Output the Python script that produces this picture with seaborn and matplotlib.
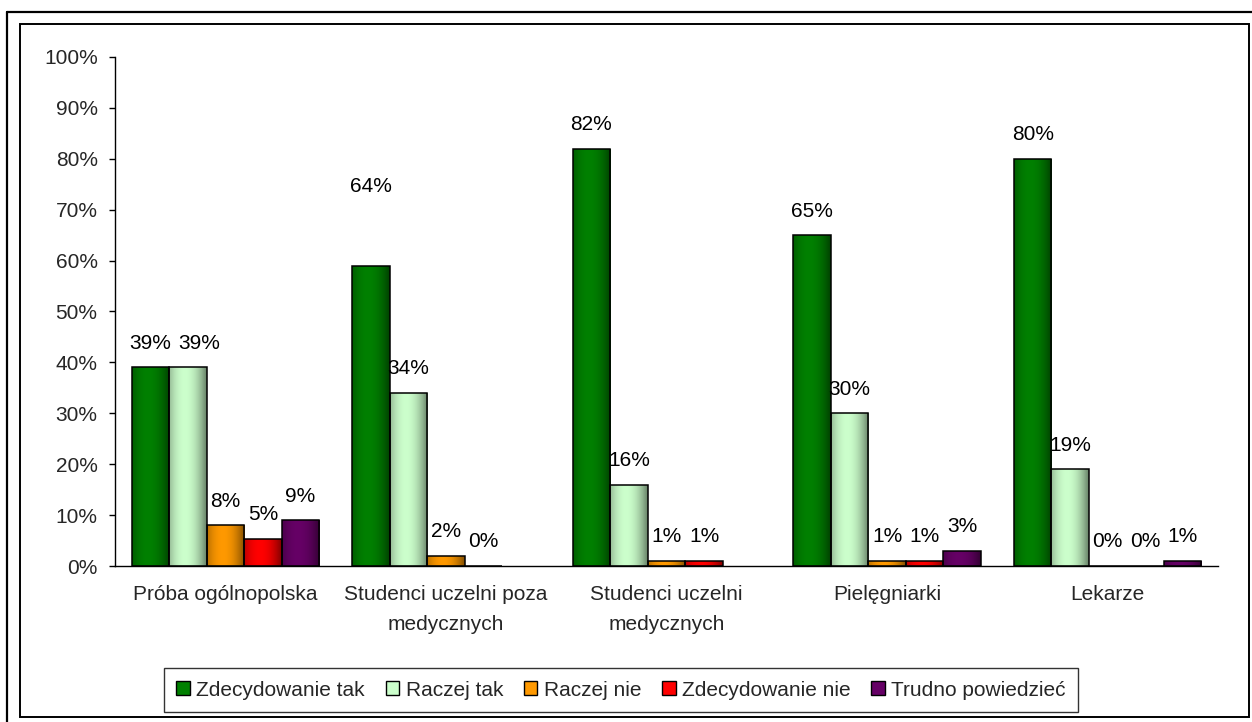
import numpy as np
import pandas as pd
import matplotlib
matplotlib.use("Agg")
import matplotlib.pyplot as plt
import seaborn as sns
from matplotlib.patches import Patch, Rectangle
from matplotlib.lines import Line2D
from matplotlib.colors import to_rgb
from matplotlib.ticker import PercentFormatter, FixedLocator

# data
categories = ["Próba ogólnopolska", "Studenci uczelni poza\nmedycznych",
              "Studenci uczelni\nmedycznych", "Pielęgniarki", "Lekarze"]
series = ["Zdecydowanie tak", "Raczej tak", "Raczej nie", "Zdecydowanie nie", "Trudno powiedzieć"]
zdecydowanie_tak = [39, 59, 82, 65, 80]
raczej_tak = [39, 34, 16, 30, 19]
raczej_nie = [8, 2, 1, 1, 0]
zdecydowanie_nie = [5.4, 0, 1, 1, 0]
trudno_powiedziec = [9, np.nan, np.nan, 3, 1]
# printed labels (the 2nd group's green label reads 64% and sits higher than its bar)
label_tak = ["39%", "64%", "82%", "65%", "80%"]

colors = ["#008000", "#CCFFCC", "#FF9900", "#FF0000", "#660066"]

df = pd.DataFrame({
    "kategoria": categories * 5,
    "odpowiedz": np.repeat(series, len(categories)),
    "wartosc": zdecydowanie_tak + raczej_tak + raczej_nie + zdecydowanie_nie + trudno_powiedziec,
})

W, H = 1252, 722
sns.set_style("white")
plt.rcParams["font.family"] = ["Liberation Sans", "DejaVu Sans"]
FS = 15

fig = plt.figure(figsize=(W / 100, H / 100), dpi=100)
ax = fig.add_axes([115 / W, 1 - 566 / H, (1218 - 115) / W, (566 - 57) / H])

sns.barplot(data=df, x="kategoria", y="wartosc", hue="odpowiedz", order=categories,
            hue_order=series, palette=colors, width=0.85, gap=0, dodge=True,
            edgecolor="black", linewidth=1.1, legend=False, ax=ax)

# excel-like horizontal gradient inside each bar
t = np.linspace(0, 1, 64)
shade = 0.55 + 0.45 * np.clip(1 - ((t - 0.42) / 0.55) ** 2, 0, 1)
for cont, col in zip(ax.containers, colors):
    rgb = np.array(to_rgb(col))
    grad = (shade[:, None] * rgb[None, :])[None, :, :]
    for bar in cont.patches:
        h = bar.get_height()
        if np.isnan(h) or h <= 0:
            continue
        x0 = bar.get_x()
        w = bar.get_width()
        im = ax.imshow(grad, extent=[x0, x0 + w, 0, h], aspect="auto", zorder=bar.get_zorder(),
                       interpolation="bilinear")
        im.set_clip_path(bar)
        bar.set_facecolor("none")
        bar.set_zorder(bar.get_zorder() + 0.1)

# value labels
for i, cont in enumerate(ax.containers):
    for j, bar in enumerate(cont.patches):
        h = bar.get_height()
        if np.isnan(h):
            continue
        text = f"{round(h):d}%"
        dx, dy = 0, 10.5
        if i == 0:
            text = label_tak[j]
            if j == 1:
                dy = 50
        if i == 1 and j == 0:
            dx = 8.5
        ax.annotate(text, (bar.get_x() + bar.get_width() / 2, h),
                    xytext=(dx, dy), textcoords="offset points", ha="center", va="bottom",
                    fontsize=FS, color="black")

ax.set_xlim(-0.5, 4.5)
ax.set_ylim(0, 100)
ax.set_yticks(range(0, 101, 10))
ax.yaxis.set_major_formatter(PercentFormatter(decimals=0))
ax.set_xticks(range(len(categories)))
ax.set_xticklabels(categories, fontsize=FS, linespacing=1.72, va="top")
ax.xaxis.set_minor_locator(FixedLocator([-0.5, 0.5, 1.5, 2.5, 3.5, 4.5]))
ax.tick_params(axis="x", which="major", length=0, pad=13.5)
ax.tick_params(axis="x", which="minor", length=4, width=1, direction="out", color="black")
ax.tick_params(axis="y", length=4.5, width=1, direction="out", color="black", pad=8,
               labelsize=FS, left=True)
ax.set_xlabel("")
ax.set_ylabel("")
for s in ["top", "right"]:
    ax.spines[s].set_visible(False)
for s in ["left", "bottom"]:
    ax.spines[s].set_color("black")
    ax.spines[s].set_linewidth(1)

handles = [Patch(facecolor=c, edgecolor="black", linewidth=1) for c in colors]
leg = fig.legend(handles, series, loc="center", bbox_to_anchor=(621 / W, 1 - 690 / H),
                 ncol=5, fontsize=FS, frameon=True, fancybox=False, handlelength=0.65,
                 handleheight=0.65, handletextpad=0.3, columnspacing=1.0, borderpad=0.6)
leg.get_frame().set_edgecolor("black")
leg.get_frame().set_linewidth(1)

# double frame around the chart area
def px_line(x0, y0, x1, y1, lw):
    fig.add_artist(Line2D([x0 / W, x1 / W], [1 - y0 / H, 1 - y1 / H], color="black",
                          linewidth=lw, transform=fig.transFigure))

px_line(7, 12, W, 12, 1.6)
px_line(7, 12, 7, H, 1.6)
fig.add_artist(Rectangle((20 / W, 1 - 717 / H), (1249 - 20) / W, (717 - 24) / H, fill=False,
                         edgecolor="black", linewidth=1.4, transform=fig.transFigure))

fig.savefig("out.png", dpi=100)
